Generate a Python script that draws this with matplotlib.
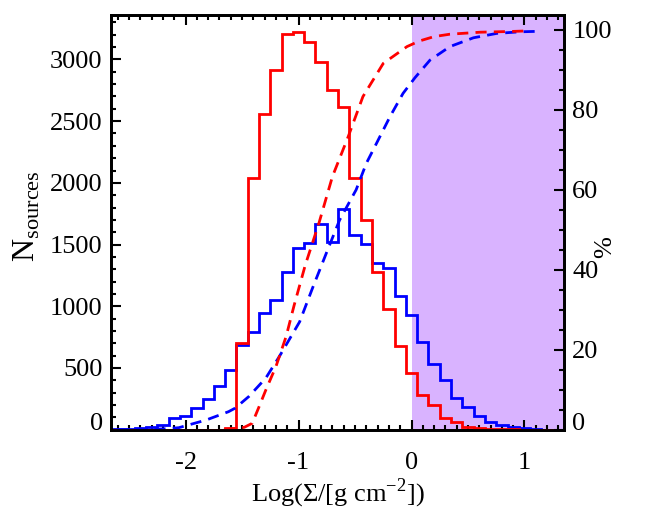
import numpy as np
import matplotlib
matplotlib.use('Agg')
import matplotlib.pyplot as plt
from matplotlib.ticker import MultipleLocator, FixedLocator

# histogram bin centres, Log(Sigma), bin width 0.1
bin_centres = [-2.6, -2.5, -2.4, -2.3, -2.2, -2.1, -2.0, -1.9, -1.8, -1.7,
               -1.6, -1.5, -1.4, -1.3, -1.2, -1.1, -1.0, -0.9, -0.8, -0.7,
               -0.6, -0.5, -0.4, -0.3, -0.2, -0.1, 0.0, 0.1, 0.2, 0.3,
               0.4, 0.5, 0.6, 0.7, 0.8, 0.9, 1.0, 1.1, 1.2, 1.3]

red_counts = [0, 0, 0, 0, 0, 0, 0, 0, 0, 0,
              10, 704, 2040, 2556, 2918, 3207, 3223, 3145, 2983, 2751,
              2616, 2036, 1700, 1279, 980, 680, 457, 281, 200, 92,
              65, 19, 11, 5, 3, 2, 0, 0, 0, 0]

blue_counts = [3, 6, 14, 18, 38, 92, 111, 173, 246, 354,
               483, 690, 788, 942, 1048, 1279, 1474, 1514, 1666, 1517,
               1785, 1577, 1501, 1347, 1312, 1083, 929, 708, 530, 402,
               259, 186, 111, 65, 38, 19, 11, 5, 0, 0]

# cumulative percentages (dashed curves, right axis)
red_cum_x = [-1.66, -1.55, -1.48, -1.41, -1.35, -1.29, -1.20, -1.11, -1.04,
             -0.94, -0.82, -0.70, -0.56, -0.43, -0.25, -0.04, 0.07, 0.20,
             0.34, 0.61, 0.90, 1.00]
red_cum_y = [0.0, 0.3, 0.6, 1.6, 5.7, 9.9, 15.8, 23.3, 31.0,
             41.2, 51.6, 63.3, 73.3, 83.3, 91.6, 95.8, 97.2, 98.3,
             98.9, 99.4, 99.6, 99.7]

blue_cum_x = [-2.6, -2.4, -2.2, -2.06, -1.82, -1.62, -1.56, -1.44, -1.29,
              -1.17, -1.05, -0.99, -0.875, -0.756, -0.637, -0.49, -0.40,
              -0.31, -0.19, -0.075, 0.03, 0.163, 0.34, 0.548, 0.755, 0.96, 1.1]
blue_cum_y = [0.0, 0.05, 0.2, 0.5, 2.4, 4.5, 5.4, 8.3, 12.9,
              18.3, 24.1, 27.0, 35.5, 44.0, 52.4, 60.0, 66.6,
              71.6, 78.3, 84.1, 88.0, 92.4, 95.8, 98.0, 99.1, 99.5, 99.6]

count_ticks = [0, 500, 1000, 1500, 2000, 2500, 3000]
pct_ticks = [0, 20, 40, 60, 80, 100]
x_ticks = [-2, -1, 0, 1]

plt.rcParams['font.family'] = ['Liberation Serif', 'DejaVu Serif']
plt.rcParams['mathtext.fontset'] = 'custom'
plt.rcParams['mathtext.rm'] = 'Liberation Serif'
plt.rcParams['font.size'] = 19

fig = plt.figure(figsize=(6.48, 5.32), dpi=100)
ax = fig.add_axes([0.1713, 0.1923, 0.6991, 0.7795])
ax2 = ax.twinx()

ax.axvspan(0, 1.35, color='#d9b3ff', lw=0, zorder=0)

edges = np.append(np.array(bin_centres) - 0.05, bin_centres[-1] + 0.05)
ax.stairs(blue_counts, edges, baseline=0, color='blue', lw=2.0, zorder=2)
ax.stairs(red_counts, edges, baseline=0, color='red', lw=2.0, zorder=3)

ax2.plot(blue_cum_x, blue_cum_y, color='blue', lw=2.0, dashes=(4, 2.6))
ax2.plot(red_cum_x, red_cum_y, color='red', lw=2.0, dashes=(4, 2.6))

ax.set_xlim(-2.66, 1.35)
ax.set_ylim(0, 3360)
ax2.set_ylim(0, 103.7)

ax.xaxis.set_major_locator(FixedLocator(x_ticks))
ax.xaxis.set_minor_locator(MultipleLocator(0.1))
ax.yaxis.set_major_locator(FixedLocator(count_ticks))
ax.yaxis.set_minor_locator(MultipleLocator(100))
ax2.yaxis.set_major_locator(FixedLocator(pct_ticks))
ax2.yaxis.set_minor_locator(MultipleLocator(5))

ax.tick_params(axis='x', which='both', direction='in', top=True, bottom=True)
ax.tick_params(axis='y', which='both', direction='in', left=True, right=False)
ax.tick_params(axis='x', which='major', pad=16)
ax.tick_params(axis='y', which='major', pad=6)
ax.tick_params(which='major', length=7, width=1.5)
ax.tick_params(which='minor', length=3.5, width=1.5)
ax2.tick_params(axis='y', which='both', direction='in', pad=6)
ax2.tick_params(which='major', length=7, width=1.5)
ax2.tick_params(which='minor', length=3.5, width=1.5)

ax.set_xticklabels([str(v) for v in x_ticks])

for a in (ax, ax2):
    for s in a.spines.values():
        s.set_linewidth(2.0)

ax.set_xlabel('Log(\u03a3/[g cm$^{\\mathregular{-2}}$])', labelpad=2)
ax.set_ylabel('N$_{\\mathregular{sources}}$', fontsize=23)
ax.yaxis.set_label_coords(-0.152, 0.515)
ax2.set_ylabel('%')
ax2.yaxis.set_label_coords(1.066, 0.44)

# zero labels sit on their baseline, a bit above the bottom spine
fig.canvas.draw()
for a in (ax, ax2):
    t0 = a.yaxis.get_major_ticks()[0]
    t0.label1.set_verticalalignment('baseline')
    t0.label2.set_verticalalignment('baseline')

fig.savefig('out.png', dpi=100)
